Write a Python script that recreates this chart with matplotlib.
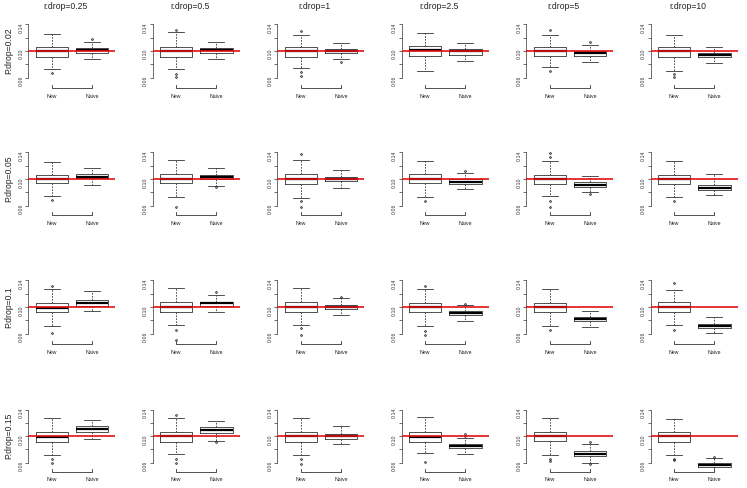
import numpy as np
import matplotlib
matplotlib.use("Agg")
import matplotlib.pyplot as plt
import matplotlib.transforms as mtrans

plt.rcParams['font.family'] = ['Liberation Sans', 'DejaVu Sans']

r_drop = ["0.25", "0.5", "1", "2.5", "5", "10"]
p_drop = ["0.02", "0.05", "0.1", "0.15"]
groups = ["New", "Naive"]
true_value = 0.10

# rows = P.drop, columns = r.drop
new_q1 = [[.091, .091, .091, .0925, .0925, .091],
          [.0935, .0935, .0925, .094, .093, .0925],
          [.0925, .0925, .0925, .0925, .0925, .093],
          [.0905, .092, .092, .092, .093, .092]]
new_med = [[.0995, .100, .0995, .101, .100, .0995],
           [.0995, .100, .0995, .100, .100, .100],
           [.099, .100, .100, .0995, .100, .100],
           [.099, .100, .100, .0995, .100, .100]]
new_q3 = [[.106, .1055, .1055, .107, .1055, .1055],
          [.1055, .107, .107, .1075, .1065, .106],
          [.106, .107, .107, .106, .1065, .108],
          [.106, .107, .107, .106, .107, .1065]]
new_lo = [[.073, .073, .074, .070, .0755, .070],
          [.0745, .0725, .071, .0735, .0745, .0735],
          [.072, .0725, .0725, .071, .072, .0735],
          [.0715, .073, .072, .074, .072, .0715]]
new_hi = [[.1255, .128, .124, .127, .124, .124],
          [.125, .129, .1285, .127, .1275, .1265],
          [.127, .129, .1285, .127, .127, .1255],
          [.1275, .128, .128, .129, .128, .127]]
new_out = [[[.067], [.131, .066, .061], [.130, .068, .063], [], [.131, .070], [.0655, .0615]],
           [[.0685], [.0585], [.137, .067, .058], [.067], [.1335, .1385, .067, .058], [.067]],
           [[.131, .061], [.065, .050], [.068, .0585], [.131, .0635, .0585], [.066], [.1355, .066]],
           [[.065, .060], [.132, .066, .060], [.065, .058], [.061], [.066, .063], [.066, .064]]]

naive_q1 = [[.097, .097, .0965, .0945, .093, .091],
            [.1015, .1005, .0965, .093, .088, .084],
            [.102, .101, .0965, .088, .0785, .0685],
            [.1065, .1055, .0965, .082, .0695, .053]]
naive_med = [[.102, .101, .100, .100, .097, .0945],
             [.1035, .1025, .100, .096, .0915, .087],
             [.1065, .1055, .100, .091, .082, .072],
             [.1105, .1095, .1005, .085, .0735, .0555]]
naive_q3 = [[.1045, .1045, .103, .1025, .1005, .0975],
            [.1075, .1055, .1035, .100, .095, .091],
            [.110, .108, .103, .0945, .085, .075],
            [.115, .1135, .104, .0887, .077, .0585]]
naive_lo = [[.088, .088, .0875, .085, .084, .082],
            [.091, .0895, .0865, .0845, .080, .076],
            [.0935, .092, .0875, .0785, .0695, .0605],
            [.0965, .0935, .0875, .073, .0595, .046]]
naive_hi = [[.114, .114, .1125, .1115, .109, .1065],
            [.1165, .1165, .1135, .1085, .104, .1075],
            [.1245, .1185, .113, .1025, .0935, .0855],
            [.125, .1235, .1155, .0975, .088, .0665]]
naive_out = [[[.118], [], [.084], [], [.113], []],
             [[], [.0875], [], [.1115], [.0775], []],
             [[], [.1225], [.1155], [.105], [], []],
             [[], [.0915], [], [.101, .103], [.0915, .057], [.069]]]

W, H = 747, 488
fig = plt.figure(figsize=(W / 100, H / 100), dpi=100)

# pixel layout of each panel
y14_px = [24.3, 152.3, 280.3, 410.0]
y06_px = [77.7, 205.7, 333.7, 462.5]
base_px = [88.0, 215.0, 344.0, 471.5]
col_px = 28.3
col_step = 124.5
panel_w = 87.0

line_c = "#333333"

for i in range(len(p_drop)):
    s = 0.08 / (y06_px[i] - y14_px[i])
    top_px = y14_px[i] - 8
    ylo = 0.06 - (base_px[i] - y06_px[i]) * s
    yhi = 0.14 + (y14_px[i] - top_px) * s
    for j in range(len(r_drop)):
        x0 = col_px + col_step * j
        ax = fig.add_axes([x0 / W, 1 - base_px[i] / H, panel_w / W, (base_px[i] - top_px) / H])
        ax.set_xlim(0.42, 2.58)
        ax.set_ylim(ylo, yhi)

        stats = [
            dict(med=new_med[i][j], q1=new_q1[i][j], q3=new_q3[i][j],
                 whislo=new_lo[i][j], whishi=new_hi[i][j], fliers=new_out[i][j]),
            dict(med=naive_med[i][j], q1=naive_q1[i][j], q3=naive_q3[i][j],
                 whislo=naive_lo[i][j], whishi=naive_hi[i][j], fliers=naive_out[i][j]),
        ]
        ax.bxp(stats, positions=[1, 2], widths=0.8, patch_artist=False,
               boxprops=dict(color=line_c, lw=0.6),
               whiskerprops=dict(color=line_c, lw=0.6, linestyle=(0, (2, 1.5))),
               capprops=dict(color=line_c, lw=0.6),
               medianprops=dict(color="black", lw=1.6, solid_capstyle="butt"),
               flierprops=dict(marker="o", markersize=1.2, markerfacecolor="none",
                               markeredgecolor="#222222", markeredgewidth=0.6))
        ax.axhline(true_value, color="#e01010", lw=1.2, zorder=5)

        for side in ["top", "right", "bottom"]:
            ax.spines[side].set_visible(False)
        ax.spines["left"].set_bounds(0.06, 0.14)
        ax.spines["left"].set_linewidth(0.5)
        ax.spines["left"].set_color(line_c)
        ticks = [0.06, 0.08, 0.10, 0.12, 0.14]
        ax.set_yticks(ticks)
        ax.set_yticklabels(["0.06", "", "0.10", "", "0.14"])
        ax.tick_params(axis="y", length=2.2, width=0.5, pad=1.2, labelsize=3.8,
                       labelrotation=90, colors=line_c)
        ax.set_xticks([])

        # bracket-like x axis
        tr = mtrans.blended_transform_factory(ax.transData, ax.transAxes)
        tk = 3.0 / (base_px[i] - top_px)
        ax.plot([1, 1, 2, 2], [tk, 0, 0, tk], color=line_c, lw=0.6,
                transform=tr, clip_on=False)
        for k, g in enumerate(groups):
            fig.text((x0 + (1 - 0.42) / 2.16 * panel_w + k * panel_w / 2.16) / W,
                     1 - (base_px[i] + 8.4) / H, g, fontsize=3.8,
                     ha="center", va="center", color="#222222")

        if i == 0:
            fig.text((x0 + 37) / W, 1 - 6.5 / H, "r.drop=" + r_drop[j],
                     fontsize=6.2, ha="center", va="center", color="#222222")
    y10 = y14_px[i] + (y06_px[i] - y14_px[i]) / 2
    fig.text(8.5 / W, 1 - y10 / H, "P.drop=" + p_drop[i], fontsize=6.2,
             rotation=90, ha="center", va="center", color="#222222")

fig.savefig("out.png", dpi=100)
